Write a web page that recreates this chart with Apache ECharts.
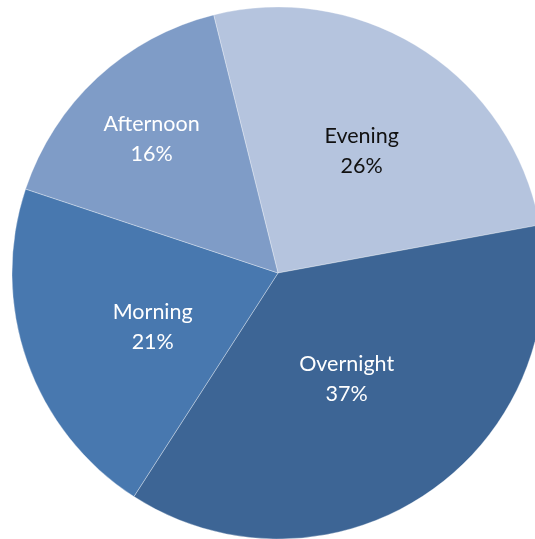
<!DOCTYPE html>
<html>
<head>
<meta charset="utf-8">
<style>
  html, body { margin: 0; padding: 0; background: #ffffff; }
  #chart { width: 535px; height: 539px; }
</style>
<script src="https://cdn.jsdelivr.net/npm/echarts@6/dist/echarts.min.js"></script>
</head>
<body>
<div id="chart"></div>
<script>
// Share of activity by time of day (percent)
const categories = ['Evening', 'Overnight', 'Morning', 'Afternoon'];
const shares = [26, 37, 21, 16];

// Slice fills and label colours, in the same order as the categories
const sliceColors = ['#b5c4de', '#3d6595', '#4878af', '#7f9cc7'];
const labelColors = ['#111111', '#ffffff', '#ffffff', '#ffffff'];
// Nudges applied to the inside labels (px)
const labelNudges = [[10, -8], [-7, -7], [3, 9], [-34, -34]];

const chart = echarts.init(document.getElementById('chart'), null, { renderer: 'canvas' });

chart.setOption({
  animation: false,
  series: [{
    type: 'pie',
    center: [278, 273],
    radius: [0, 266],
    startAngle: 104,
    clockwise: true,
    avoidLabelOverlap: false,
    itemStyle: {
      borderColor: 'rgba(255,255,255,0.4)',
      borderWidth: 0.8
    },
    label: {
      show: true,
      position: 'inside',
      fontFamily: 'Lato, "Open Sans", sans-serif',
      fontSize: 21.5,
      lineHeight: 30,
      align: 'center',
      formatter: p => p.name + '\n' + p.value + '%'
    },
    labelLine: { show: false },
    labelLayout: p => ({ dx: labelNudges[p.dataIndex][0], dy: labelNudges[p.dataIndex][1] }),
    emphasis: { disabled: true },
    data: categories.map((name, i) => ({
      name,
      value: shares[i],
      itemStyle: { color: sliceColors[i] },
      label: { color: labelColors[i] }
    }))
  }]
});
</script>
</body>
</html>
